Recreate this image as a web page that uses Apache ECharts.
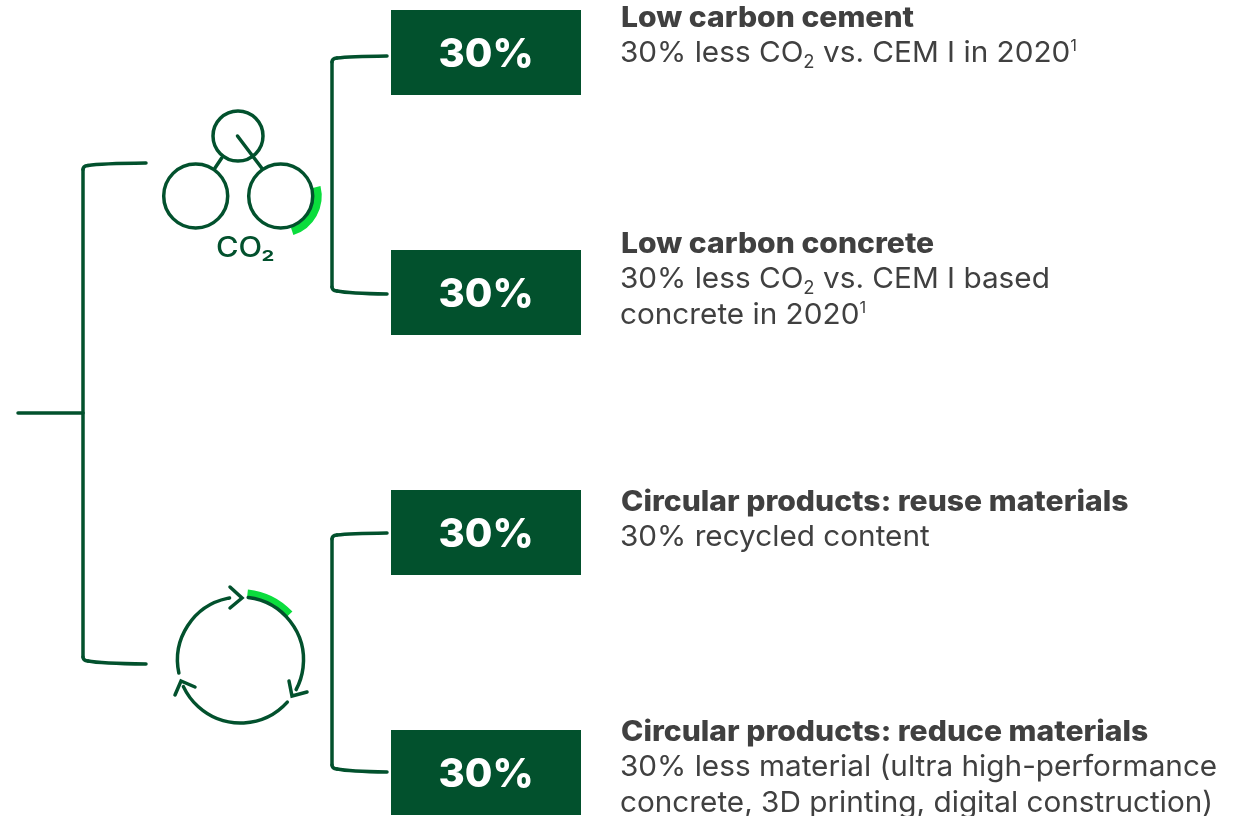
<!DOCTYPE html>
<html>
<head>
<meta charset="utf-8">
<style>html,body{margin:0;padding:0;background:#fff}#chart{width:1246px;height:816px}</style>
<script src="https://cdn.jsdelivr.net/npm/echarts@6/dist/echarts.min.js"></script>
</head>
<body>
<div id="chart"></div>
<script>
const categories = ["Low carbon cement", "Low carbon concrete", "Circular products: reuse materials", "Circular products: reduce materials"];
const reductionValues = [30, 30, 30, 30];
const descriptions = [
  ["30% less CO{sub|2} vs. CEM I in 2020{sup|1}"],
  ["30% less CO{sub|2} vs. CEM I based", "concrete in 2020{sup|1}"],
  ["30% recycled content"],
  ["30% less material (ultra high-performance", "concrete, 3D printing, digital construction)"]
];

const dark = "#02512D";
const bright = "#0BDD3D";
const textColor = "#404040";
const fontFamily = "Inter";
const titleTop = [19, 245, 503, 733];
const rad = d => (d * Math.PI) / 180;

const stroke = { stroke: dark, lineWidth: 3.5, fill: null, lineCap: "round" };

function line(x1, y1, x2, y2) {
  return { type: "line", shape: { x1, y1, x2, y2 }, style: stroke };
}
function circle(cx, cy, r) {
  return { type: "circle", shape: { cx, cy, r }, style: stroke };
}
function arc(cx, cy, r, a, b, style) {
  return { type: "arc", shape: { cx, cy, r, startAngle: rad(a), endAngle: rad(b), clockwise: true }, style: style || stroke };
}
function poly(points) {
  return { type: "polyline", shape: { points }, style: stroke };
}
function curve(x1, y1, cpx1, cpy1, x2, y2) {
  return { type: "bezierCurve", shape: { x1, y1, x2, y2, cpx1, cpy1 }, style: stroke };
}
function bracket(x, yTop, yBottom, xEnd, yEndTop, yEndBottom) {
  return [
    curve(xEnd, yEndTop, x + 17, yEndTop + 0.5, x + 5, yTop),
    curve(x + 5, yTop, x, yTop + 0.5, x, yTop + 4),
    line(x, yTop + 4, x, yBottom - 4),
    curve(x, yBottom - 4, x, yBottom - 0.5, x + 5, yBottom),
    curve(x + 5, yBottom, x + 17, yEndBottom - 0.5, xEnd, yEndBottom)
  ];
}

const textEls = [];
categories.forEach((name, i) => {
  textEls.push({
    type: "text",
    x: 621,
    y: titleTop[i],
    scaleX: 1.075, // Inter is narrower than the reference face
    style: { text: name, fill: textColor, font: `800 28px ${fontFamily}`, verticalAlign: "middle" }
  });
  descriptions[i].forEach((row, j) => {
    textEls.push({
      type: "text",
      x: 620,
      y: titleTop[i] + 35.5 * (j + 1) - 1,
      scaleX: 1.025,
      style: {
        text: row.split(/(\{su[bp]\|\d\})/).map(s => (s && s[0] !== "{" ? `{n|${s}}` : s)).join(""),
        fill: textColor,
        verticalAlign: "middle",
        rich: {
          n: { fontFamily, fontSize: 29, lineHeight: 36, color: textColor, verticalAlign: "middle" },
          sub: { fontFamily, fontSize: 18, lineHeight: 18, color: textColor, verticalAlign: "bottom" },
          sup: { fontFamily, fontSize: 16, lineHeight: 16, color: textColor, verticalAlign: "top", padding: [3, 0, 0, 0] }
        }
      }
    });
  });
});

const iconEls = [
  line(18, 413, 83, 413),
  ...bracket(83, 165.5, 661, 146, 163, 664),
  ...bracket(332, 58, 291, 387, 56, 294),
  ...bracket(332, 535, 769, 387, 533, 772),
  // CO2 icon
  arc(280.7, 196, 37, -14, 72, { stroke: bright, lineWidth: 8, fill: null }),
  circle(238, 136, 25),
  circle(195.7, 196, 32),
  circle(280.7, 196, 32),
  line(237.5, 136, 261.7, 168),
  line(221.7, 158, 215, 168),
  {
    type: "text",
    x: 216,
    y: 249,
    scaleX: 1.1,
    style: { text: "CO₂", fill: dark, font: `500 28px ${fontFamily}`, verticalAlign: "middle" }
  },
  // recycling icon
  arc(240.5, 660, 67, -84, -43, { stroke: bright, lineWidth: 8, fill: null }),
  arc(240.5, 660, 63, -83, 28),
  arc(240.5, 660, 63, 42, 155),
  arc(240.5, 660, 63, 168, 260),
  poly([[230, 587], [242, 598], [230, 608]]),
  poly([[289, 681], [292, 696], [307, 692]]),
  poly([[175, 695], [181, 681], [195, 687]])
];

const chart = echarts.init(document.getElementById("chart"));
chart.setOption({
  animation: false,
  backgroundColor: "#fff",
  // 4 equal bands of 240px, so the bars land on the reference rows
  grid: { left: 391, width: 190, top: -67.5, height: 960, containLabel: false, outerBoundsMode: "none" },
  xAxis: { type: "value", min: 0, max: 30, show: false },
  yAxis: { type: "category", inverse: true, data: categories, show: false },
  series: [
    {
      type: "bar",
      data: reductionValues,
      barWidth: 85,
      itemStyle: { color: dark },
      label: {
        show: true,
        position: "inside",
        offset: [0, 2],
        formatter: "{c}%",
        color: "#fff",
        fontFamily,
        fontWeight: 800,
        fontSize: 40
      }
    }
  ],
  graphic: { elements: [...iconEls, ...textEls] }
});
</script>
</body>
</html>
